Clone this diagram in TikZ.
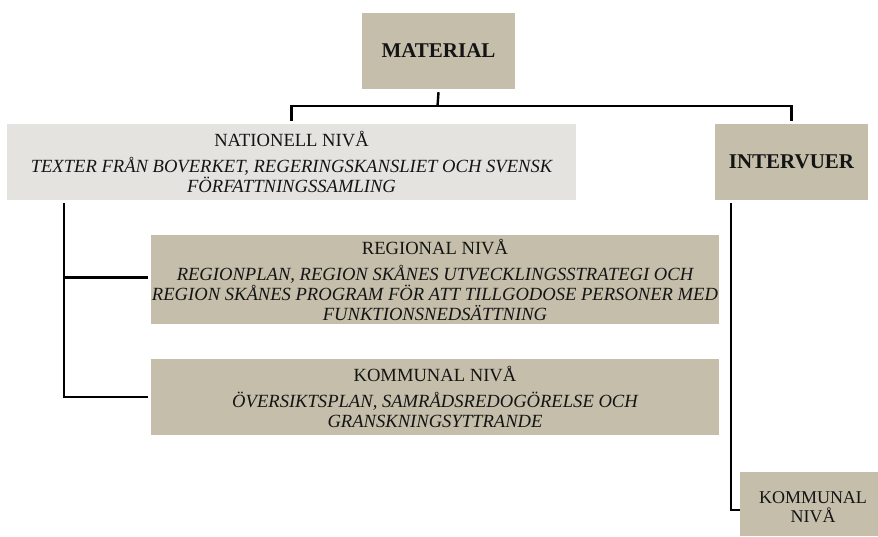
\documentclass[tikz,border=0pt]{standalone}
\usepackage{fontspec}
\setmainfont{Liberation Serif}
\definecolor{tanbox}{RGB}{196,190,171}
\definecolor{lightbox}{RGB}{228,227,223}
\definecolor{txt}{RGB}{20,20,20}
\begin{document}
\begin{tikzpicture}[x=1pt,y=-1pt,
  box/.style={fill=tanbox, inner sep=0pt, align=center, text=txt, anchor=center},
  lvl/.style={font=\fontsize{18.6}{20}\selectfont},
  big/.style={font=\fontsize{21}{24}\selectfont\bfseries},
  conn/.style={draw=black, line width=2.4pt}]
\useasboundingbox (0,0) rectangle (878,536);
\node[box, big, minimum width=153pt, minimum height=76pt] (mat) at (438.5,51) {MATERIAL};
\node[box, lvl, fill=lightbox, minimum width=569pt, minimum height=76pt] (nat) at (291.5,162)
  {NATIONELL NIVÅ\\[6pt]\itshape TEXTER FRÅN BOVERKET, REGERINGSKANSLIET OCH SVENSK\\\itshape FÖRFATTNINGSSAMLING};
\node[box, big, minimum width=153pt, minimum height=76pt] (int) at (791.5,162) {INTERVUER};
\node[box, lvl, minimum width=568pt, minimum height=89pt] (reg) at (435,279.5)
  {REGIONAL NIVÅ\\[6pt]\itshape REGIONPLAN, REGION SKÅNES UTVECKLINGSSTRATEGI OCH\\\itshape REGION SKÅNES PROGRAM FÖR ATT TILLGODOSE PERSONER MED\\\itshape FUNKTIONSNEDSÄTTNING};
\node[box, lvl, minimum width=568pt, minimum height=76pt] (kom) at (435,397)
  {KOMMUNAL NIVÅ\\[6pt]\itshape ÖVERSIKTSPLAN, SAMRÅDSREDOGÖRELSE OCH\\\itshape GRANSKNINGSYTTRANDE};
\node[box, minimum width=138pt, minimum height=64pt] (kom2) at (809,504) {};
\node[text=txt, font=\fontsize{18}{19}\selectfont, align=center, inner sep=0pt] (kom2t) at (813,507) {KOMMUNAL\\NIVÅ};
\coordinate (j) at (437.5,106);
\coordinate (l1) at (64,203);
\coordinate (r1) at (731,203);
\draw[conn] ([yshift=-3pt]mat.south) -- (j);
\draw[conn] ([yshift=3pt]nat.north) |- (j) -| ([yshift=3pt]int.north);
\draw[conn] (l1) |- ([xshift=-3pt,yshift=2pt]reg.west);
\draw[conn] (l1) |- ([xshift=-3pt]kom.west);
\draw[conn] (r1) |- ([yshift=-6pt]kom2.west);
\end{tikzpicture}
\end{document}
